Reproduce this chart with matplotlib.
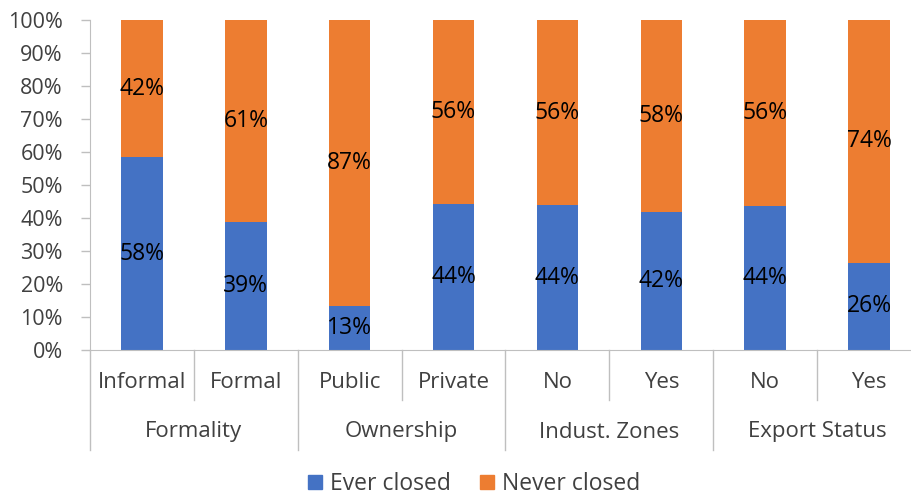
import matplotlib
matplotlib.use("Agg")
import matplotlib.pyplot as plt
from matplotlib.lines import Line2D
from matplotlib.patches import Patch

plt.rcParams['font.family'] = ['Open Sans', 'DejaVu Sans']

categories = ["Informal", "Formal", "Public", "Private", "No", "Yes", "No", "Yes"]
groups = ["Formality", "Ownership", "Indust. Zones", "Export Status"]
ever_closed = [58.4, 38.8, 13.2, 44.3, 43.9, 41.8, 43.6, 26.4]
never_closed = [100 - v for v in ever_closed]
ytick_vals = [0, 10, 20, 30, 40, 50, 60, 70, 80, 90, 100]

BLUE = "#4472C4"
ORANGE = "#ED7D31"
TXT = "#404040"
GRID = "#BFBFBF"
FS_TICK = 15.5
FS_DATA = 16.5
FS_CAT = 16
FS_LEG = 16.5

W, H = 912, 497
fig = plt.figure(figsize=(W / 100, H / 100), dpi=100)
x0, x1 = 90, 921
ytop, ybot = 20, 350
ax = fig.add_axes([x0 / W, (H - ybot) / H, (x1 - x0) / W, (ybot - ytop) / H])

xs = list(range(len(categories)))
bw = 0.40
ax.bar(xs, ever_closed, width=bw, color=BLUE, zorder=2)
ax.bar(xs, never_closed, width=bw, bottom=ever_closed, color=ORANGE, zorder=2)

for x, e, n in zip(xs, ever_closed, never_closed):
    ax.text(x, e / 2, f"{round(e):d}%", ha="center", va="center", fontsize=FS_DATA, color="black", zorder=3)
    ax.text(x, e + n / 2, f"{round(n):d}%", ha="center", va="center", fontsize=FS_DATA, color="black", zorder=3)

ax.set_xlim(-0.5, len(categories) - 0.5)
ax.set_ylim(0, 100)
ax.set_yticks(ytick_vals)
ax.set_yticklabels([f"{v}%" for v in ytick_vals], fontsize=FS_TICK, color=TXT)
ax.tick_params(axis="y", length=6.5, color=GRID, width=1, pad=13)
ax.set_xticks([])
for s in ["top", "right"]:
    ax.spines[s].set_visible(False)
ax.spines["left"].set_color(GRID)
ax.spines["bottom"].set_color(GRID)

tr = ax.get_xaxis_transform()
h_ax = ybot - ytop
cat_y = -(383 - ybot) / h_ax
grp_y = -(432 - ybot) / h_ax
short = -(400 - ybot) / h_ax
long_ = -(450 - ybot) / h_ax

for x, c in zip(xs, categories):
    ax.text(x, cat_y, c, transform=tr, ha="center", va="center", fontsize=FS_CAT, color=TXT, clip_on=False)
for gi, g in enumerate(groups):
    ax.text(2 * gi + 0.5, grp_y, g, transform=tr, ha="center", va="center", fontsize=FS_CAT, color=TXT, clip_on=False)

for b in range(len(categories) + 1):
    xb = b - 0.5
    y_end = long_ if b % 2 == 0 else short
    ax.add_line(Line2D([xb, xb], [0, y_end], transform=tr, color=GRID, lw=1, clip_on=False))

handles = [Patch(color=BLUE, label="Ever closed"), Patch(color=ORANGE, label="Never closed")]
fig.legend(handles=handles, loc="center", bbox_to_anchor=(474 / W, 1 - 484 / H), ncol=2,
           frameon=False, fontsize=FS_LEG, handlelength=0.62, handleheight=0.62, columnspacing=1.25,
           handletextpad=0.35, labelcolor=TXT)

fig.savefig("out.png", dpi=100)
